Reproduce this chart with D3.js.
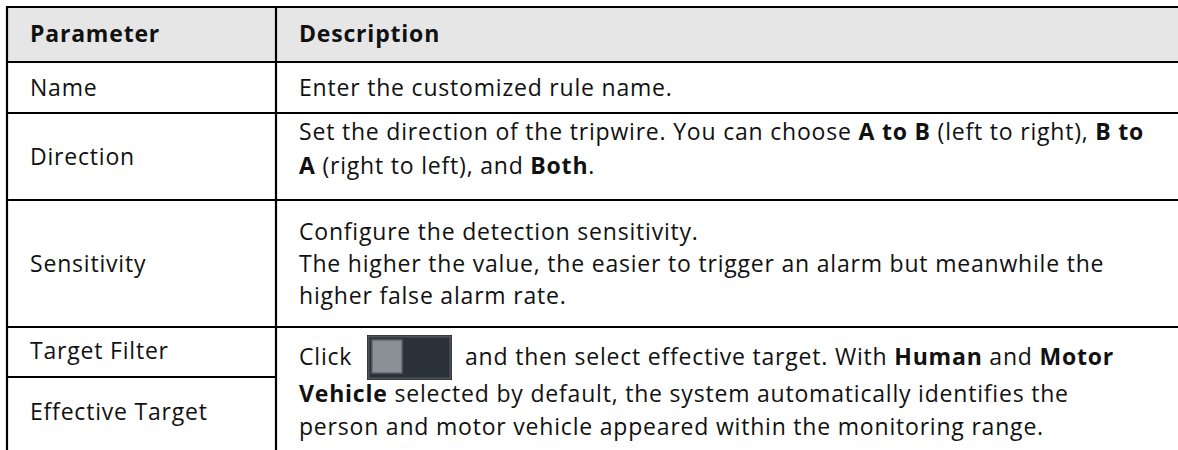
<!DOCTYPE html>
<html>
<head>
<meta charset="utf-8">
<script src="https://cdn.jsdelivr.net/npm/d3@7"></script>
<style>
  html, body { margin: 0; padding: 0; background: #fff; }
  svg { display: block; }
</style>
</head>
<body>
<svg id="chart" width="1178" height="450"></svg>
<script>
// ---- data ----
const headers = ["Parameter", "Description"];
const parameters = ["Name", "Direction", "Sensitivity", "Target Filter", "Effective Target"];
// description lines, each line is a list of [text, bold] segments
const nameDesc = [[["Enter the customized rule name.", false]]];
const directionDesc = [
  [["Set the direction of the tripwire. You can choose ", false], ["A to B", true], [" (left to right), ", false], ["B to", true]],
  [["A", true], [" (right to left), and ", false], ["Both", true], [".", false]]
];
const sensitivityDesc = [
  [["Configure the detection sensitivity.", false]],
  [["The higher the value, the easier to trigger an alarm but meanwhile the", false]],
  [["higher false alarm rate.", false]]
];
const targetDesc = [
  [["Click ", false], ["__TOGGLE__", false], ["and then select effective target. With ", false], ["Human", true], [" and ", false], ["Motor", true]],
  [["Vehicle", true], [" selected by default, the system automatically identifies the", false]],
  [["person and motor vehicle appeared within the monitoring range.", false]]
];

// ---- layout ----
const W = 1178, H = 450;
const FONT = "'Open Sans', 'Noto Sans', sans-serif";
const FS = 23;
const LS = 0.8;
const x0 = 7, xDiv = 276, xText1 = 30, xText2 = 299;
const rowY = [7, 62, 113, 200, 327, 377, 470];

const svg = d3.select("#chart");
svg.append("rect").attr("width", W).attr("height", H).attr("fill", "#fff");

// header fill
svg.append("rect").attr("x", x0).attr("y", rowY[0]).attr("width", W - x0).attr("height", rowY[1] - rowY[0]).attr("fill", "#e6e6e6");

const g = svg.append("g").attr("font-family", FONT).attr("font-size", FS)
  .attr("letter-spacing", LS).attr("fill", "#111");

// header text
g.append("text").attr("x", xText1).attr("y", 42).attr("font-weight", "bold").text(headers[0]);
g.append("text").attr("x", xText2).attr("y", 42).attr("font-weight", "bold").text(headers[1]);

// left column parameter labels
const paramBaselines = [96, 165, 272, 359, 420];
g.selectAll("text.param").data(parameters).join("text")
  .attr("class", "param")
  .attr("x", xText1)
  .attr("y", (d, i) => paramBaselines[i])
  .text(d => d);

// description blocks
const blocks = [
  { lines: nameDesc, baselines: [96] },
  { lines: directionDesc, baselines: [140, 174] },
  { lines: sensitivityDesc, baselines: [240, 272, 304] },
  { lines: targetDesc, baselines: [365, 402, 435] }
];

function drawToggle(x, yTop) {
  const t = svg.append("g").attr("transform", `translate(${x},${yTop})`);
  t.append("rect").attr("x", 0).attr("y", 0).attr("width", 85).attr("height", 45).attr("fill", "#1d2127");
  t.append("rect").attr("x", 1.5).attr("y", 1.5).attr("width", 82).attr("height", 42).attr("fill", "#2b3139").attr("stroke", "#4e535c").attr("stroke-width", 2);
  t.append("rect").attr("x", 5).attr("y", 5).attr("width", 30).attr("height", 33).attr("fill", "#8b9096").attr("stroke", "#5f646b").attr("stroke-width", 1.5);
  return 85;
}

blocks.forEach(b => {
  b.lines.forEach((segs, li) => {
    const y = b.baselines[li];
    let cx = xText2;
    segs.forEach(([txt, bold]) => {
      if (txt === "__TOGGLE__") {
        drawToggle(367, 335);
        cx = 367 + 85 + 13;
        return;
      }
      const t = g.append("text").attr("x", cx).attr("y", y).attr("xml:space", "preserve")
        .style("white-space", "pre")
        .attr("font-weight", bold ? "bold" : "normal").text(txt);
      cx += t.node().getComputedTextLength();
    });
  });
});

// grid lines
const lines = svg.append("g").attr("stroke", "#000").attr("stroke-width", 2.2);
[rowY[0], rowY[1], rowY[2], rowY[3], rowY[4]].forEach(y => {
  lines.append("line").attr("x1", x0 - 1).attr("x2", W).attr("y1", y).attr("y2", y);
});
lines.append("line").attr("x1", x0).attr("x2", xDiv).attr("y1", rowY[5]).attr("y2", rowY[5]);
[x0, xDiv].forEach(x => {
  lines.append("line").attr("x1", x).attr("x2", x).attr("y1", rowY[0] - 1).attr("y2", H);
});
</script>
</body>
</html>
